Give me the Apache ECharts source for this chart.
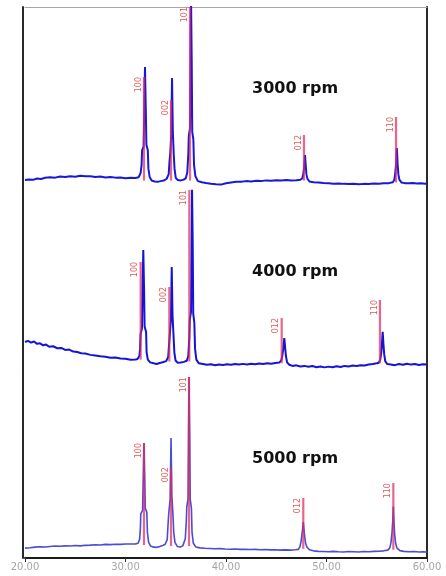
<!DOCTYPE html>
<html>
<head>
<meta charset="utf-8">
<script src="https://cdn.jsdelivr.net/npm/echarts@6/dist/echarts.min.js"></script>
<style>
  html, body { margin: 0; padding: 0; background: #fff; }
  #xrd { width: 446px; height: 576px; }
</style>
</head>
<body>
<div id="xrd"></div>
<script>
  // panel names, top to bottom
  const speeds = ['3000 rpm', '4000 rpm', '5000 rpm']
  const hklLabels = ['100', '002', '101', '012', '110']

  // measured profiles, [2theta, intensity]
  const xrd3000 = [
    [20.0, 5.8], [20.4, 6.1], [20.8, 5.9], [21.2, 6.6], [21.6, 6.4], [22.0, 7.0], [22.5, 7.3], [23.0, 7.1],
    [23.5, 7.7], [24.0, 7.5], [24.5, 7.9], [25.0, 7.6], [25.5, 8.1], [26.0, 7.8], [26.5, 7.9], [27.0, 7.5],
    [27.5, 7.7], [28.0, 7.2], [28.5, 7.4], [29.0, 7.1], [29.5, 7.2], [30.0, 6.8], [30.5, 7.0], [31.0, 6.9],
    [31.3, 7.3], [31.5, 9.5], [31.6, 14], [31.65, 22], [31.8, 24], [31.86, 42], [31.94, 67.3], [32.02, 44],
    [32.08, 25], [32.22, 22], [32.28, 12], [32.4, 7.5], [32.6, 5.5],
    [32.9, 5.0], [33.2, 4.8], [33.5, 5.2], [33.8, 5.5],
    [34.1, 6.5], [34.3, 9], [34.38, 16], [34.45, 20], [34.55, 30], [34.63, 61.3], [34.71, 32], [34.8, 20],
    [34.88, 12], [35.0, 7], [35.2, 5.8], [35.5, 5.6], [35.8, 6.0],
    [36.0, 6.8], [36.15, 10], [36.25, 20], [36.3, 30], [36.42, 34], [36.47, 70], [36.52, 105], [36.59, 70],
    [36.64, 32], [36.75, 28], [36.82, 14], [36.95, 8], [37.2, 5.2],
    [37.6, 4.6], [38.0, 4.2], [38.5, 3.8], [39.0, 3.5], [39.5, 3.3], [40.0, 4.0], [40.5, 4.4], [41.0, 4.8],
    [41.5, 4.9], [42.0, 5.2], [42.5, 5.0], [43.0, 5.4], [43.5, 5.2], [44.0, 5.6], [44.5, 5.4], [45.0, 5.7],
    [45.5, 5.5], [46.0, 5.8], [46.5, 5.6], [47.0, 5.7], [47.4, 5.9],
    [47.6, 6.8], [47.7, 9.5], [47.78, 13], [47.86, 19.4], [47.93, 14], [48.0, 9], [48.1, 6.5], [48.3, 5.0],
    [48.7, 4.6], [49.2, 4.5], [49.7, 4.2], [50.2, 4.0], [50.7, 3.8], [51.2, 3.9], [51.7, 3.7], [52.2, 3.6],
    [52.7, 3.8], [53.2, 3.5], [53.7, 3.7], [54.2, 3.6], [54.7, 3.9], [55.2, 3.8], [55.7, 4.0], [56.2, 4.1],
    [56.6, 4.6], [56.75, 6], [56.85, 10], [56.93, 15], [57.0, 23.2], [57.07, 15], [57.15, 9], [57.25, 6],
    [57.45, 4.5], [57.8, 4.1], [58.2, 4.0], [58.6, 4.2], [59.0, 3.9], [59.4, 4.0], [59.8, 3.8], [60.0, 3.9]
  ]
  const xrd4000 = [
    [20.0, 17.6], [20.3, 18.2], [20.6, 17.3], [20.9, 17.9], [21.2, 16.6], [21.5, 16.9], [21.8, 15.8], [22.1, 16.2],
    [22.4, 15.0], [22.8, 15.3], [23.2, 14.2], [23.6, 14.4], [24.0, 13.3], [24.4, 13.5], [24.8, 12.4], [25.2, 12.2],
    [25.6, 11.5], [26.0, 11.3], [26.5, 10.6], [27.0, 10.2], [27.5, 9.8], [28.0, 9.6], [28.5, 9.0], [29.0, 9.2],
    [29.5, 8.6], [30.0, 8.5], [30.5, 8.0], [31.0, 8.1],
    [31.2, 8.4], [31.38, 10], [31.45, 14], [31.5, 22], [31.64, 25], [31.69, 44], [31.77, 67.7], [31.85, 46],
    [31.9, 26], [32.05, 23], [32.1, 12], [32.22, 8], [32.45, 6.5],
    [32.8, 6.0], [33.1, 5.6], [33.4, 6.2], [33.7, 6.6],
    [34.05, 7.2], [34.25, 9.5], [34.33, 16], [34.4, 21], [34.52, 30], [34.6, 58.4], [34.68, 32], [34.78, 21],
    [34.86, 12], [34.98, 7.5], [35.2, 6.3], [35.5, 6.4], [35.8, 6.8],
    [36.1, 7.4], [36.25, 10], [36.35, 20], [36.4, 30], [36.52, 34], [36.57, 70], [36.62, 101], [36.69, 70],
    [36.74, 33], [36.85, 28], [36.92, 14], [37.05, 8], [37.3, 6.0],
    [37.7, 5.6], [38.1, 5.2], [38.5, 5.5], [38.9, 5.0], [39.3, 5.4], [39.7, 5.1], [40.1, 5.5], [40.5, 5.2],
    [40.9, 5.6], [41.3, 5.3], [41.7, 5.7], [42.1, 5.4], [42.5, 5.8], [42.9, 5.5], [43.3, 5.9], [43.7, 5.6],
    [44.1, 6.0], [44.5, 5.8], [44.9, 6.2], [45.3, 6.4],
    [45.5, 7.5], [45.6, 10], [45.7, 14], [45.8, 19.8], [45.88, 15], [45.96, 10], [46.08, 6.5], [46.3, 5.2],
    [46.6, 4.6], [47.0, 4.9], [47.4, 4.3], [47.8, 4.6], [48.2, 4.1], [48.6, 4.5], [49.0, 3.9], [49.4, 4.3],
    [49.8, 3.8], [50.2, 4.2], [50.6, 3.9], [51.0, 4.4], [51.4, 4.0], [51.8, 4.6], [52.2, 4.3], [52.6, 4.8],
    [53.0, 4.5], [53.4, 5.0], [53.8, 4.8], [54.2, 5.4], [54.6, 5.6], [55.0, 6.0], [55.2, 6.3],
    [55.35, 8], [55.45, 12], [55.52, 17], [55.59, 23.1], [55.66, 17], [55.74, 11], [55.85, 7], [56.05, 5.6],
    [56.4, 5.4], [56.8, 5.0], [57.2, 5.6], [57.6, 5.2], [58.0, 5.8], [58.4, 5.3], [58.8, 5.6], [59.2, 5.1],
    [59.6, 5.5], [60.0, 5.3]
  ]
  const xrd5000 = [
    [20.0, 5.4], [20.5, 5.6], [21.0, 5.9], [21.5, 6.1], [22.0, 6.0], [22.5, 6.3], [23.0, 6.5], [23.5, 6.4],
    [24.0, 6.6], [24.5, 6.5], [25.0, 6.8], [25.5, 6.6], [26.0, 6.9], [26.5, 7.0], [27.0, 7.2], [27.5, 7.1],
    [28.0, 7.4], [28.5, 7.3], [29.0, 7.5], [29.5, 7.4], [30.0, 7.6], [30.5, 7.6], [31.0, 7.7],
    [31.25, 8.0], [31.4, 10], [31.48, 16], [31.52, 24], [31.7, 26], [31.76, 42], [31.84, 62.6], [31.92, 42],
    [31.97, 27], [32.12, 25], [32.18, 14], [32.3, 8.5], [32.5, 6.5],
    [32.8, 5.9], [33.1, 5.8], [33.4, 6.2], [33.7, 6.8],
    [33.95, 7.5], [34.15, 10], [34.23, 18], [34.3, 24], [34.44, 32], [34.53, 65.3], [34.61, 34], [34.72, 24],
    [34.8, 14], [34.92, 8.5], [35.15, 6.3], [35.45, 6.0], [35.7, 6.6],
    [35.8, 7.5], [35.95, 10.5], [36.05, 20], [36.1, 28], [36.22, 32], [36.27, 68], [36.32, 98.5], [36.39, 68],
    [36.44, 32], [36.56, 27], [36.62, 14], [36.75, 8], [37.0, 6.0],
    [37.4, 5.5], [37.9, 5.3], [38.4, 5.2], [38.9, 5.0], [39.4, 5.1], [39.9, 4.9], [40.4, 4.8], [40.9, 4.9],
    [41.4, 4.7], [41.9, 4.8], [42.4, 4.6], [42.9, 4.7], [43.4, 4.5], [43.9, 4.6], [44.4, 4.4], [44.9, 4.5],
    [45.4, 4.3], [45.9, 4.4], [46.4, 4.3], [46.9, 4.5], [47.2, 4.7],
    [47.35, 6], [47.47, 9], [47.56, 13], [47.63, 16], [47.69, 19.6], [47.75, 16], [47.82, 12], [47.92, 8],
    [48.05, 6], [48.3, 4.5],
    [48.7, 3.9], [49.2, 3.6], [49.7, 3.5], [50.2, 3.4], [50.7, 3.6], [51.2, 3.4], [51.7, 3.3], [52.2, 3.5],
    [52.7, 3.4], [53.2, 3.3], [53.7, 3.5], [54.2, 3.4], [54.7, 3.6], [55.2, 3.7], [55.7, 3.9], [56.1, 4.3],
    [56.3, 5.5], [56.42, 8.5], [56.52, 14], [56.6, 21], [56.65, 28], [56.7, 21], [56.78, 13], [56.88, 8],
    [57.0, 5.5], [57.3, 4.0],
    [57.7, 3.6], [58.2, 3.4], [58.7, 3.5], [59.2, 3.3], [59.6, 3.4], [60.0, 3.3]
  ]

  // reference lines (hkl sticks): position, foot, top
  const sticks3000 = [[31.84, 5.5, 61.9], [34.53, 5.5, 49.4], [36.42, 5.5, 100], [47.76, 5.5, 30.3], [56.92, 4.5, 40.1]]
  const sticks4000 = [[31.51, 8, 61.2], [34.36, 7, 47.6], [36.35, 7, 100.4], [45.54, 6, 30.7], [55.32, 6, 40.5]]
  const sticks5000 = [[31.84, 7, 62.6], [34.53, 6.5, 49.5], [36.32, 6.5, 98.5], [47.69, 5, 32.7], [56.65, 4.5, 40.8]]

  const profiles = [xrd3000, xrd4000, xrd5000]
  const sticks = [sticks3000, sticks4000, sticks5000]
  const lineColors = ['#1818d8', '#1414d4', '#4b4bd6']
  const lineWidths = [2, 2, 1.6]

  const panelTop = [7, 190.67, 374.33]
  const panelH = 183.67
  const labelY = [90, 273, 460]

  const chart = echarts.init(document.getElementById('xrd'), null, { renderer: 'canvas' })

  function renderStick(params, api) {
    const x = api.value(0)
    const foot = api.coord([x, api.value(1)])
    const top = api.coord([x, api.value(2)])
    return {
      type: 'group',
      children: [
        {
          type: 'line',
          shape: { x1: foot[0], y1: foot[1], x2: top[0], y2: top[1] },
          style: { stroke: 'rgba(226,40,96,0.72)', lineWidth: 2.2 }
        },
        {
          type: 'text',
          x: top[0] - 1.5,
          y: top[1],
          rotation: Math.PI / 2,
          style: {
            text: hklLabels[params.dataIndex],
            align: 'right',
            verticalAlign: 'bottom',
            fill: '#dc5a55',
            font: '8px "DejaVu Sans"'
          }
        }
      ]
    }
  }

  const grid = [], xAxis = [], yAxis = [], series = []
  for (let i = 0; i < 3; i++) {
    grid.push({ left: 25, right: 19, top: panelTop[i], height: panelH })
    const bottom = i === 2
    xAxis.push({
      gridIndex: i,
      type: 'value',
      min: 20,
      max: 60,
      interval: 10,
      position: i === 0 ? 'top' : 'bottom',
      show: i !== 1,
      axisLine: {
        onZero: false,
        lineStyle: bottom ? { color: '#1a1a1a', width: 2 } : { color: '#a8a8a8', width: 1 }
      },
      axisTick: { show: bottom, length: 4, lineStyle: { color: '#333' } },
      axisLabel: {
        show: bottom,
        margin: 4,
        color: '#a6a6a6',
        fontSize: 10,
        fontFamily: 'DejaVu Sans',
        formatter: v => v.toFixed(2)
      },
      splitLine: { show: false }
    })
    for (const side of ['left', 'right']) {
      yAxis.push({
        gridIndex: i,
        type: 'value',
        position: side,
        min: 0,
        max: 100,
        offset: side === 'left' ? 2 : 0,
        axisLine: { show: true, onZero: false, lineStyle: { color: '#2a2a2a', width: 2 } },
        axisTick: { show: false },
        axisLabel: { show: false },
        splitLine: { show: false }
      })
    }
    series.push({
      type: 'line',
      xAxisIndex: i,
      yAxisIndex: i * 2,
      data: profiles[i],
      showSymbol: false,
      clip: true,
      lineStyle: { color: lineColors[i], width: lineWidths[i] },
      z: 2
    })
    series.push({
      type: 'custom',
      xAxisIndex: i,
      yAxisIndex: i * 2,
      data: sticks[i],
      renderItem: renderStick,
      z: 3
    })
  }

  chart.setOption({
    animation: false,
    backgroundColor: '#fff',
    grid,
    xAxis,
    yAxis,
    series,
    graphic: speeds.map((s, i) => ({
      type: 'text',
      left: 252,
      top: labelY[i] - 9,
      style: { text: s, fill: '#111', font: 'bold 16px "DejaVu Sans"' }
    }))
  })
</script>
</body>
</html>
